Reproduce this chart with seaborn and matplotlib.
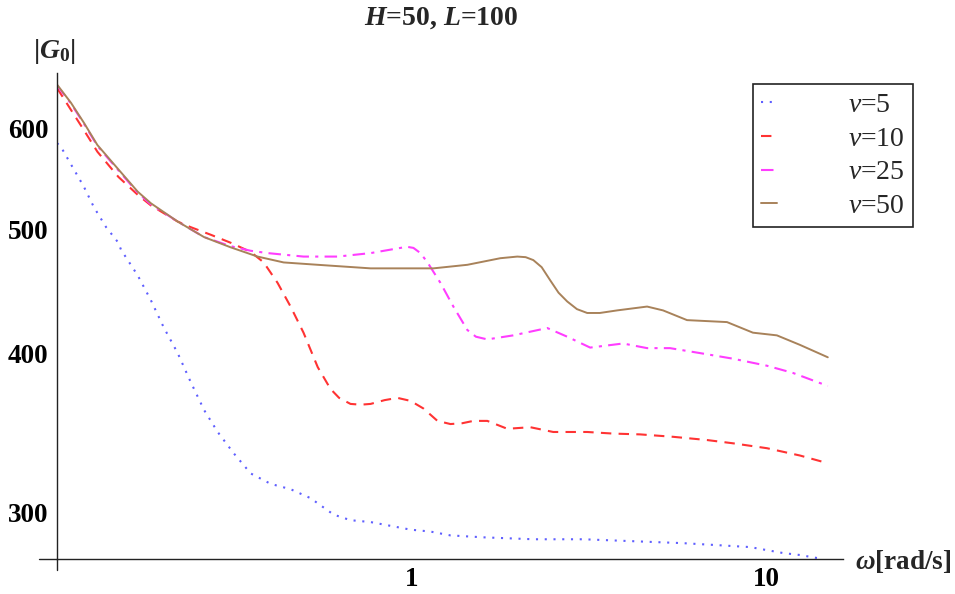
import seaborn as sns
import pandas as pd
import matplotlib.pyplot as plt
from matplotlib.ticker import NullLocator

# values (omega in rad/s, |G0|)
w_v5 = [0.100, 0.1026, 0.1095, 0.119, 0.127, 0.1375, 0.149, 0.1515, 0.169, 0.184,
        0.200, 0.219, 0.238, 0.260, 0.284, 0.315, 0.352, 0.401, 0.456, 0.519,
        0.603, 0.673, 0.767, 0.873, 0.994, 1.131, 1.288, 1.595, 2.207, 3.052,
        4.221, 5.837, 7.278, 9.02, 11.17, 12.47, 14.47]
g_v5 = [584, 580, 562, 540, 520.5, 502, 488, 482, 460, 440,
        419, 400, 380, 361, 347, 334, 322, 316, 313, 308,
        299, 296, 295, 293, 291, 290, 288, 287, 286, 286,
        285, 284, 283, 282, 279, 278, 276]

w_v10 = [0.100, 0.1095, 0.119, 0.130, 0.149, 0.169, 0.184, 0.219, 0.238, 0.272,
         0.309, 0.352, 0.383, 0.419, 0.456, 0.496, 0.544, 0.591, 0.625, 0.673,
         0.72, 0.767, 0.84, 0.913, 0.994, 1.081, 1.184, 1.288, 1.39, 1.495,
         1.637, 1.864, 2.164, 2.512, 3.132, 3.707, 4.417, 5.471, 6.821, 8.072,
         10.07, 12.47, 14.95]
g_v10 = [645, 620, 598, 575, 549.5, 532, 522, 507, 502, 495,
         488, 480, 471, 454, 435, 415, 390, 375, 369, 365,
         364.5, 365, 367.5, 369, 367, 362, 354, 352, 352.5, 354,
         354, 349, 350, 347, 347, 346, 345.5, 344, 342, 340,
         337, 332.6, 328]

w_v25 = [0.100, 0.1095, 0.119, 0.130, 0.149, 0.169, 0.184, 0.219, 0.260, 0.309,
         0.352, 0.393, 0.496, 0.619, 0.767, 0.931, 0.97, 1.013, 1.06, 1.110,
         1.207, 1.313, 1.438, 1.52, 1.637, 1.938, 2.416, 2.751, 3.193, 3.955,
         4.622, 5.364, 6.52, 8.072, 10.07, 11.91, 14.95]
g_v25 = [648, 627, 605, 581, 556, 534, 523, 507, 493, 485,
         481, 479, 476, 476, 479, 483.5, 484.5, 483.5, 479, 471,
         454, 435, 417, 412, 410, 413, 418.5, 412, 404, 407,
         403.6, 403.6, 400, 396, 391, 386, 377]

w_v50 = [0.100, 0.1095, 0.119, 0.130, 0.149, 0.169, 0.184, 0.219, 0.260, 0.309,
         0.368, 0.436, 0.544, 0.767, 0.931, 1.153, 1.438, 1.781, 1.989, 2.1,
         2.207, 2.33, 2.464, 2.6, 2.751, 2.93, 3.132, 3.4, 3.804, 4.622,
         5.127, 5.991, 7.766, 9.192, 10.74, 12.47, 14.95]
g_v50 = [649, 628, 606, 582, 557, 535, 524, 507, 493, 484,
         476, 471, 469, 466, 466, 466, 469, 474.6, 476, 475.5,
         473, 467, 456, 446, 439, 433, 430, 430, 432, 435,
         432, 424.5, 423, 415, 413, 406, 397]

labels = ["$v$=5", "$v$=10", "$v$=25", "$v$=50"]
colors = ["#5f5fff", "#ff3333", "#ff3dff", "#a8825a"]
styles = [(0, (1, 3.2)), (0, (5, 3.5)), (0, (6, 3, 1.5, 3)), "-"]
series = [(w_v5, g_v5), (w_v10, g_v10), (w_v25, g_v25), (w_v50, g_v50)]

sns.set_style("white")
plt.rcParams['font.family'] = ['Liberation Serif', 'DejaVu Sans']
plt.rcParams['mathtext.fontset'] = 'custom'
plt.rcParams['mathtext.rm'] = 'Liberation Serif'
plt.rcParams['mathtext.it'] = 'Liberation Serif:italic'
plt.rcParams['mathtext.bf'] = 'Liberation Serif:bold'
plt.rcParams['mathtext.bfit'] = 'Liberation Serif:italic:bold'

fig = plt.figure(figsize=(9.55, 5.94), dpi=100)
ax = fig.add_axes([0.0597, 0.0589, 0.823, 0.8187])

for (w, g), lab, col, ls in zip(series, labels, colors, styles):
    df = pd.DataFrame({"omega": w, "G": g})
    sns.lineplot(data=df, x="omega", y="G", ax=ax, color=col, linestyle=ls,
                 linewidth=1.5 if ls != "-" else 1.4, label=lab)

ax.set_xscale('log')
ax.set_yscale('log')
ax.set_xlim(0.1, 16.5)
ax.set_ylim(276, 663)
ax.set_xticks([1, 10], ['1', '10'], fontweight='bold', fontsize=19.5)
ax.set_yticks([300, 400, 500, 600], ['300', '400', '500', '600'], fontweight='bold', fontsize=19.5)
ax.xaxis.set_minor_locator(NullLocator())
ax.yaxis.set_minor_locator(NullLocator())
ax.tick_params(axis='x', direction='in', length=5, width=1.0, pad=6, colors='#222222', labelcolor='black')
ax.tick_params(axis='y', direction='in', length=5, width=1.0, pad=6, colors='#222222', labelcolor='black')
ax.set_xlabel('')
ax.set_ylabel('')

for s in ['top', 'right']:
    ax.spines[s].set_visible(False)
for s in ['left', 'bottom']:
    ax.spines[s].set_color('#222222')
    ax.spines[s].set_linewidth(1.0)
# Mathematica-style crossing axes
ax.plot([-0.023, 0], [0, 0], transform=ax.transAxes, clip_on=False, color='#222222', lw=1.0)
ax.plot([0, 0], [-0.023, 0], transform=ax.transAxes, clip_on=False, color='#222222', lw=1.0)

fig.text(0.462, 0.97, r'$\mathbfit{H}$=50, $\mathbfit{L}$=100', ha='center', va='center',
         fontsize=20, fontweight='bold')
fig.text(0.0565, 0.913, r'|$\mathbfit{G}_{\mathbf{0}}$|', ha='center', va='center',
         fontsize=20, fontweight='bold')
fig.text(0.895, 0.0539, r'$\mathbfit{\omega}$[rad/s]', ha='left', va='center',
         fontsize=19.5, fontweight='bold')

leg = ax.legend(loc='upper left', bbox_to_anchor=(0.7885, 0.8586), bbox_transform=fig.transFigure,
                borderaxespad=0, fontsize=20, handlelength=0.55, handletextpad=2.57,
                labelspacing=0.3, borderpad=0.3, fancybox=False, framealpha=1)
leg.get_frame().set_edgecolor('#222222')
leg.get_frame().set_linewidth(1.2)

fig.savefig('out.png', dpi=100)
